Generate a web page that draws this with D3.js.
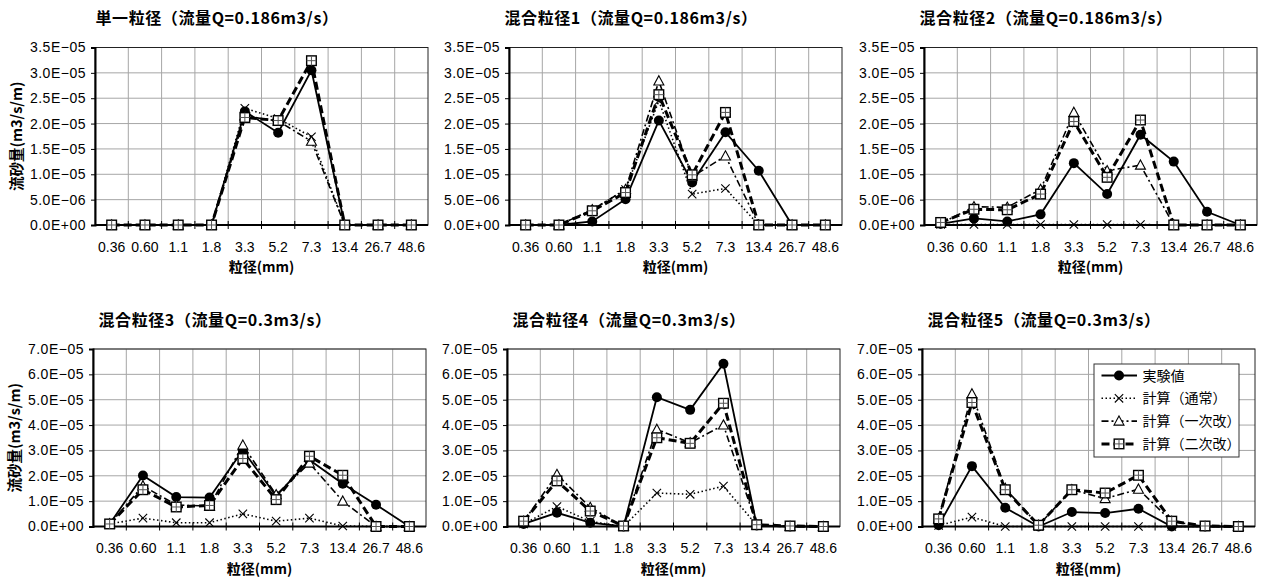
<!DOCTYPE html>
<html>
<head>
<meta charset="utf-8">
<script src="https://cdn.jsdelivr.net/npm/d3@7"></script>
<style>
  body { margin: 0; background: #fff; }
  svg { display: block; }
</style>
</head>
<body>
<svg id="chart" width="1265" height="580"></svg>
<script>
// grain size classes (mm)
var sizes = ["0.36", "0.60", "1.1", "1.8", "3.3", "5.2", "7.3", "13.4", "26.7", "48.6"];
var titles = [
  "単一粒径（流量Q=0.186m3/s）",
  "混合粒径1（流量Q=0.186m3/s）",
  "混合粒径2（流量Q=0.186m3/s）",
  "混合粒径3（流量Q=0.3m3/s）",
  "混合粒径4（流量Q=0.3m3/s）",
  "混合粒径5（流量Q=0.3m3/s）"
];
var yMax = [3.5e-5, 3.5e-5, 3.5e-5, 7e-5, 7e-5, 7e-5];
var yStep = [0.5e-5, 0.5e-5, 0.5e-5, 1e-5, 1e-5, 1e-5];
var seriesNames = ["実験値", "計算（通常）", "計算（一次改）", "計算（二次改）"];

// values below are in units of 1e-5 m3/s/m, one row per panel
var unit = 1e-5;
var jikkenchi = [
  [0, 0, 0, 0, 2.24, 1.82, 3.05, 0, 0, 0],
  [0, 0, 0.07, 0.51, 2.06, 0.84, 1.83, 1.07, 0, 0],
  [0.02, 0.13, 0.07, 0.21, 1.22, 0.61, 1.78, 1.25, 0.26, 0],
  [0.1, 2.01, 1.16, 1.14, 3.01, 1.2, 2.62, 1.69, 0.86, 0],
  [0.1, 0.54, 0.15, 0, 5.1, 4.6, 6.42, 0.04, 0, 0],
  [0.05, 2.38, 0.74, 0, 0.57, 0.53, 0.7, 0, 0, 0]
];
var keisanTsujo = [
  [0, 0, 0, 0, 2.3, 2.1, 1.74, 0, 0, 0],
  [0, 0, 0.3, 0.7, 2.45, 0.61, 0.72, 0, 0, 0],
  [0.01, 0.01, 0.01, 0.01, 0.01, 0.01, 0.01, 0, 0, 0],
  [0.1, 0.33, 0.15, 0.15, 0.5, 0.21, 0.33, 0.02, 0, 0],
  [0.1, 0.79, 0.2, 0, 1.32, 1.27, 1.59, 0.05, 0, 0],
  [0.04, 0.37, 0, 0, 0, 0, 0, 0, 0, 0]
];
var keisanIchiji = [
  [0, 0, 0, 0, 2.15, 2.05, 1.65, 0, 0, 0],
  [0, 0, 0.3, 0.7, 2.84, 0.95, 1.36, 0, 0, 0],
  [0.03, 0.36, 0.35, 0.7, 2.22, 1.07, 1.18, 0, 0, 0],
  [0.1, 1.6, 0.85, 0.8, 3.21, 1.25, 2.5, 1.0, 0, 0],
  [0.2, 2.05, 0.75, 0, 3.83, 3.3, 4.0, 0.05, 0, 0],
  [0.3, 5.23, 1.5, 0.05, 1.45, 1.1, 1.47, 0.2, 0, 0]
];
var keisanNiji = [
  [0, 0, 0, 0, 2.12, 2.06, 3.24, 0, 0, 0],
  [0, 0, 0.28, 0.64, 2.57, 0.99, 2.22, 0, 0, 0],
  [0.05, 0.31, 0.3, 0.61, 2.04, 0.94, 2.07, 0, 0, 0],
  [0.1, 1.45, 0.77, 0.83, 2.68, 1.06, 2.77, 2.02, 0, 0],
  [0.21, 1.8, 0.61, 0.02, 3.5, 3.28, 4.86, 0.07, 0.02, 0],
  [0.3, 4.89, 1.45, 0.05, 1.45, 1.32, 2.02, 0.21, 0.02, 0]
];

var seriesData = [jikkenchi, keisanTsujo, keisanIchiji, keisanNiji];
var styles = [
  {marker: "circle", width: 1.8, dash: null},
  {marker: "cross", width: 1.6, dash: "1.5,2.5"},
  {marker: "triangle", width: 1.6, dash: "7,3,2,3"},
  {marker: "square", width: 3, dash: "8,4"}
];

// plot origins (left, top) per panel
var origins = [[95, 47.5], [509, 47.5], [924, 47.5], [93, 349], [507, 349], [922, 349]];
var plotW = 333, plotH = 177.5;

var svg = d3.select("#chart");
var tickFont = "'Liberation Sans', Arial, sans-serif";
var jpFont = "'Noto Sans CJK JP', sans-serif";

function sci(v) {
  if (v === 0) return "0.0E+00";
  var e = Math.floor(Math.log10(v) + 1e-9);
  var m = v / Math.pow(10, e);
  return m.toFixed(1) + "E" + (e < 0 ? "\u2212" : "+") + String(Math.abs(e)).padStart(2, "0");
}

function drawMarker(g, type, x, y) {
  if (type === "circle") {
    g.append("circle").attr("cx", x).attr("cy", y).attr("r", 5).attr("fill", "#000");
  } else if (type === "cross") {
    var s = 4.2;
    g.append("path").attr("d", "M" + (x - s) + "," + (y - s) + "L" + (x + s) + "," + (y + s) +
      "M" + (x - s) + "," + (y + s) + "L" + (x + s) + "," + (y - s))
      .attr("stroke", "#000").attr("stroke-width", 1.1).attr("fill", "none");
  } else if (type === "triangle") {
    g.append("path").attr("d", "M" + x + "," + (y - 5.2) + "L" + (x + 5) + "," + (y + 4) + "L" + (x - 5) + "," + (y + 4) + "Z")
      .attr("fill", "#fff").attr("stroke", "#000").attr("stroke-width", 1.1);
  } else {
    var h = 4.8;
    g.append("rect").attr("x", x - h).attr("y", y - h).attr("width", 2 * h).attr("height", 2 * h)
      .attr("fill", "#fff").attr("stroke", "#000").attr("stroke-width", 1.4);
    g.append("path").attr("d", "M" + x + "," + (y - h) + "V" + (y + h) + "M" + (x - h) + "," + y + "H" + (x + h))
      .attr("stroke", "#555").attr("stroke-width", 1);
  }
}

titles.forEach(function(title, p) {
  var ox = origins[p][0], oy = origins[p][1];
  var g = svg.append("g").attr("transform", "translate(" + ox + "," + oy + ")");
  var x = d3.scaleBand().domain(sizes).range([0, plotW]);
  var y = d3.scaleLinear().domain([0, yMax[p]]).range([plotH, 0]);
  var nTicks = Math.round(yMax[p] / yStep[p]);
  var yTicks = d3.range(nTicks + 1).map(function(i) { return i * yStep[p]; });

  // title
  g.append("text").attr("x", 122).attr("y", -23.5).attr("text-anchor", "middle")
    .attr("font-family", jpFont).attr("font-weight", "bold").attr("font-size", 16)
    .attr("letter-spacing", 0.6).text(title);

  // gridlines
  g.selectAll("line.hgrid").data(yTicks.slice(1)).enter().append("line")
    .attr("x1", 0).attr("x2", plotW).attr("y1", y).attr("y2", y)
    .attr("stroke", "#a6a6a6").attr("stroke-width", 1);
  g.selectAll("line.vgrid").data(sizes.slice(1)).enter().append("line")
    .attr("x1", x).attr("x2", x).attr("y1", 0).attr("y2", plotH)
    .attr("stroke", "#a6a6a6").attr("stroke-width", 1);
  g.append("rect").attr("width", plotW).attr("height", plotH)
    .attr("fill", "none").attr("stroke", "#222").attr("stroke-width", 1);

  // y axis
  var yAxis = d3.axisLeft(y).tickValues(yTicks).tickFormat(sci).tickSize(4).tickPadding(5);
  var ya = g.append("g").call(yAxis);
  ya.select(".domain").attr("stroke-width", 2);
  ya.selectAll("text").attr("font-family", tickFont).attr("font-size", 14)
    .attr("letter-spacing", 0.5).attr("fill", "#000");

  // x axis: cross tick marks at category boundaries
  var xa = g.append("g").attr("transform", "translate(0," + plotH + ")");
  xa.append("line").attr("x1", 0).attr("x2", plotW).attr("stroke", "#000").attr("stroke-width", 2);
  xa.selectAll("line.tk").data(sizes.slice(1)).enter().append("line")
    .attr("x1", x).attr("x2", x).attr("y1", -4).attr("y2", 4).attr("stroke", "#000");
  xa.selectAll("text").data(sizes).enter().append("text")
    .attr("x", function(d) { return x(d) + x.bandwidth() / 2; }).attr("y", 26.5)
    .attr("text-anchor", "middle").attr("font-family", tickFont).attr("font-size", 14)
    .text(function(d) { return d; });
  g.append("text").attr("x", plotW / 2).attr("y", plotH + 47).attr("text-anchor", "middle")
    .attr("font-family", jpFont).attr("font-weight", "bold").attr("font-size", 14)
    .text("粒径(mm)");

  if (p % 3 === 0) {
    g.append("text").attr("transform", "translate(" + (-73) + "," + (plotH / 2) + ") rotate(-90)")
      .attr("text-anchor", "middle").attr("font-family", jpFont).attr("font-weight", "bold")
      .attr("font-size", 14.5).text("流砂量(m3/s/m)");
  }

  // series
  seriesData.forEach(function(arr, s) {
    var vals = arr[p];
    var pts = vals.map(function(v, i) {
      return [x(sizes[i]) + x.bandwidth() / 2, y(v * unit)];
    });
    g.append("path").attr("d", d3.line()(pts)).attr("fill", "none")
      .attr("stroke", "#000").attr("stroke-width", styles[s].width)
      .attr("stroke-dasharray", styles[s].dash);
    var mg = g.append("g");
    pts.forEach(function(pt) { drawMarker(mg, styles[s].marker, pt[0], pt[1]); });
  });

  // legend in the last panel
  if (p === 5) {
    var lg = g.append("g").attr("transform", "translate(172,15)");
    lg.append("rect").attr("width", 145).attr("height", 93)
      .attr("fill", "#fff").attr("stroke", "#333").attr("stroke-width", 1);
    seriesNames.forEach(function(name, s) {
      var cy = 11.5 + s * 22.8;
      lg.append("line").attr("x1", 7.5).attr("x2", 43).attr("y1", cy).attr("y2", cy)
        .attr("stroke", "#000").attr("stroke-width", styles[s].width)
        .attr("stroke-dasharray", styles[s].dash);
      drawMarker(lg, styles[s].marker, 25, cy);
      lg.append("text").attr("x", 48.5).attr("y", cy + 5).attr("font-family", jpFont)
        .attr("font-size", 14).text(name);
    });
  }
});
</script>
</body>
</html>
